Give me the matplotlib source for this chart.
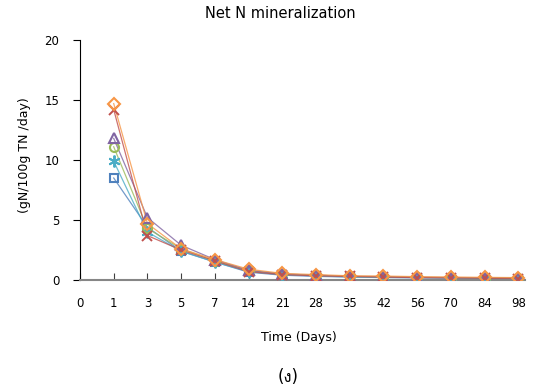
#!/usr/bin/env python3
import numpy as np
import matplotlib.pyplot as plt
from matplotlib import font_manager
from matplotlib.ft2font import FT2Font

# categories on the x axis (Excel style category axis)
days = ['0', '1', '3', '5', '7', '14', '21', '28', '35', '42', '56', '70', '84', '98']

# series values for days 1..98
s_square = [8.5, 4.4, 2.4, 1.5, 0.65, 0.4, 0.3, 0.25, 0.2, 0.18, 0.15, 0.12, 0.1]
s_cross = [14.2, 3.7, 2.5, 1.6, 0.7, 0.45, 0.35, 0.3, 0.25, 0.2, 0.18, 0.15, 0.12]
s_circle = [11.1, 4.3, 2.6, 1.6, 0.8, 0.5, 0.4, 0.3, 0.28, 0.22, 0.2, 0.18, 0.15]
s_triangle = [11.8, 5.2, 2.9, 1.7, 0.8, 0.5, 0.4, 0.3, 0.28, 0.22, 0.2, 0.18, 0.15]
s_star = [9.9, 4.0, 2.4, 1.5, 0.7, 0.45, 0.35, 0.25, 0.22, 0.2, 0.18, 0.15, 0.12]
s_diamond = [14.7, 4.7, 2.6, 1.7, 0.9, 0.55, 0.45, 0.35, 0.33, 0.28, 0.25, 0.22, 0.2]

series = [
    (s_square, '#4F81BD', 's'),
    (s_star, '#4BACC6', (6, 2, 0)),
    (s_circle, '#9BBB59', 'o'),
    (s_triangle, '#8064A2', '^'),
    (s_cross, '#C0504D', 'x'),
    (s_diamond, '#F79646', 'D'),
]


def find_family(char):
    ''' look for an installed family that has a glyph for char'''
    for f in font_manager.fontManager.ttflist:
        try:
            if FT2Font(f.fname).get_char_index(ord(char)):
                return f.name
        except Exception:
            pass
    return 'DejaVu Sans'


thai_family = find_family('\u0e07')

fig = plt.figure(figsize=(5.33, 3.89), dpi=100)
ax = fig.add_axes([80/533, 1-280/389, 445/533, 240/389])

x = np.arange(1, len(days))
for vals, col, mk in series:
    ax.plot(x, vals, color=col, lw=0.9, alpha=0.8, zorder=2)
    if isinstance(mk, tuple):
        ax.plot(x, vals, ls='none', marker=mk, ms=8.5, mew=1.4, color=col, zorder=3)
    elif mk == 'x':
        ax.plot(x, vals, ls='none', marker=mk, ms=6.5, mew=1.4, color=col, zorder=3)
    else:
        ax.plot(x, vals, ls='none', marker=mk, ms=6 if mk == 's' else 6.5,
                mfc='none', mec=col, mew=1.5, zorder=3)

ax.set_xlim(0, 13.2)
ax.set_ylim(0, 20)
ax.set_xticks(np.arange(len(days)))
ax.set_xticklabels(days)
ax.set_yticks([0, 5, 10, 15, 20])
ax.tick_params(axis='x', direction='in', length=5, labelsize=8.5, pad=12, color='#404040')
ax.tick_params(axis='y', direction='out', length=5, labelsize=8.5, pad=10)
ax.spines['top'].set_visible(False)
ax.spines['right'].set_visible(False)
ax.spines['bottom'].set_color('#868686')
ax.spines['bottom'].set_linewidth(1.5)

fig.text(280/533, 1-13/389, 'Net N mineralization', ha='center', va='center', fontsize=10.5)
fig.text(299/533, 1-338/389, 'Time (Days)', ha='center', va='center', fontsize=9)
fig.text(25/533, 1-155/389, '(gN/100g TN /day)', ha='center', va='center',
         rotation=90, fontsize=9)
fig.text(288/533, 1-377/389, '(\u0e07)', ha='center', va='center', fontsize=12,
         family=['DejaVu Sans', thai_family])

fig.savefig('out.png', dpi=100)
